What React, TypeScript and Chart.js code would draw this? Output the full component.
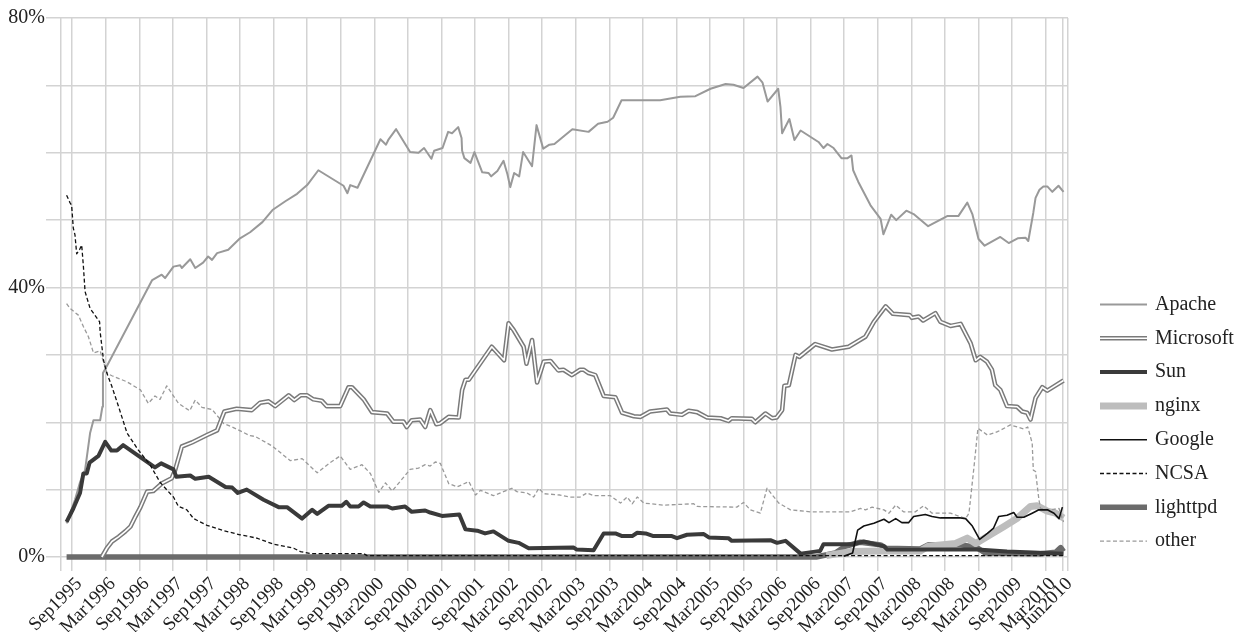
import { useEffect, useRef } from 'react';
import { Chart, registerables } from 'chart.js';

Chart.register(...registerables);

// ---- tick labels (x) ----
const tickLabels = [
  'Sep1995', 'Mar1996', 'Sep1996', 'Mar1997', 'Sep1997', 'Mar1998', 'Sep1998', 'Mar1999',
  'Sep1999', 'Mar2000', 'Sep2000', 'Mar2001', 'Sep2001', 'Mar2002', 'Sep2002', 'Mar2003',
  'Sep2003', 'Mar2004', 'Sep2004', 'Mar2005', 'Sep2005', 'Mar2006', 'Sep2006', 'Mar2007',
  'Sep2007', 'Mar2008', 'Sep2008', 'Mar2009', 'Sep2009', 'Mar2010', 'Jun2010',
];
const monthNames = ['Jan', 'Feb', 'Mar', 'Apr', 'May', 'Jun', 'Jul', 'Aug', 'Sep', 'Oct', 'Nov', 'Dec'];
// x values are months counted from Jan 1995
const tickMonths = tickLabels.map(
  (l) => (parseInt(l.slice(3), 10) - 1995) * 12 + monthNames.indexOf(l.slice(0, 3)),
);
const xMin = 6; // Jul 1995
const xMax = 186; // Jul 2010

// ---- y ticks ----
const yMax = 80;
const yGridStep = 10;
const yLabelStep = 40;

// ---- series values: [month since Jan 1995, share %] ----
const apache: [number, number][] = [
  [7, 5.0], [8.5, 8.5], [9.4, 11.1], [10.3, 12.9], [11.2, 18.4], [11.8, 20.3], [13, 20.3], [13.4, 22.3],
  [13.5, 27.3], [14.3, 28.5], [22.3, 41.1], [24, 41.9], [24.6, 41.4], [26.1, 43.1], [27.3, 43.3],
  [27.6, 42.9], [29.1, 44.2], [30, 42.9], [31.4, 43.7], [32.3, 44.6], [33, 44.1], [33.9, 45.1],
  [35.9, 45.6], [38, 47.3], [39.8, 48.2], [42, 49.7], [43.8, 51.5], [46.1, 52.8], [48.2, 53.9],
  [50, 55.2], [52, 57.4], [56.5, 55.1], [57.2, 54], [57.7, 55.2], [59, 54.8], [63.1, 62], [64.1, 61.2],
  [64.5, 61.9], [65.9, 63.5], [68.4, 60.1], [69.9, 60], [70.9, 60.7], [72.2, 59.1], [72.7, 60.3],
  [74.2, 60.7], [75.2, 63.1], [75.9, 62.9], [77, 63.8], [77.6, 62.2], [77.7, 60.3], [78.1, 59.2],
  [79.2, 58.5], [79.9, 60.1], [81.3, 57.1], [82.4, 57], [82.9, 56.5], [84, 57.3], [85.1, 58.8],
  [85.8, 56.8], [86.3, 54.9], [87, 57], [87.9, 56.5], [88.6, 60.1], [90.2, 58], [91, 64.1], [92.2, 60.6],
  [93.3, 61.2], [94.2, 61.3], [97.4, 63.5], [100.3, 63.1], [102, 64.3], [103.7, 64.6], [104.7, 65.2],
  [106.2, 67.8], [113.1, 67.8], [116.7, 68.3], [119.4, 68.4], [122.1, 69.5], [124.8, 70.2],
  [126.2, 70.1], [128, 69.6], [130.5, 71.3], [131.4, 70.4], [132.3, 67.6], [134.2, 69.5], [134.6, 66.8],
  [134.9, 62.9], [136.2, 65], [137.1, 61.9], [138.2, 63.3], [141.4, 61.6], [142.3, 60.7], [143, 61.3],
  [144.1, 60.7], [145.5, 59.2], [146.6, 59.2], [147.3, 59.6], [147.6, 57.4], [148.5, 55.7],
  [150.7, 52.2], [152.5, 50.2], [153, 47.9], [154.4, 50.8], [155.3, 50], [157.1, 51.4], [158.4, 50.9],
  [161, 49.1], [164.4, 50.6], [166.4, 50.6], [168, 52.6], [168.9, 50.9], [170, 47.2], [171.1, 46.2],
  [173.9, 47.5], [175.4, 46.6], [177, 47.3], [178.4, 47.4], [178.9, 46.9], [179.8, 51.1], [180.2, 53.3],
  [180.9, 54.5], [181.6, 55], [182.3, 55], [183.2, 54.2], [184.3, 55.1], [185.2, 54.2],
];

const microsoft: [number, number][] = [
  [13.3, 0], [14.2, 1.3], [15.1, 2.3], [16.3, 3], [17.5, 3.8], [18.4, 4.5], [19.3, 6], [20.2, 7.4],
  [21.4, 9.7], [22.5, 9.8], [24, 10.9], [25.8, 11.7], [26.4, 12.9], [27.6, 16.4], [29.4, 17],
  [32.1, 18.1], [33.9, 18.8], [35.2, 21.6], [37.4, 22], [40.1, 21.8], [41.6, 22.9], [43.1, 23.1],
  [44.3, 22.4], [46.7, 24], [47.7, 23.3], [48.8, 24], [50, 24], [51.1, 23.4], [52.6, 23.2], [53.5, 22.4],
  [55.9, 22.4], [57.4, 25.2], [58, 25.2], [60.1, 23.4], [61.6, 21.5], [64.3, 21.3], [65.4, 20.1],
  [67.2, 20.1], [67.8, 19.3], [68.7, 20.3], [70.2, 20.4], [71.1, 19.3], [72, 21.8], [73.1, 19.7],
  [73.7, 19.8], [75.3, 20.8], [77.1, 20.7], [77.7, 24.8], [78.3, 26.3], [78.9, 26.3], [83, 31.2],
  [85.2, 29.2], [86, 34.7], [86.9, 33.7], [88.7, 31.2], [89.2, 28.7], [90.2, 32.2], [91.1, 25.9],
  [92.3, 29], [93.5, 29.1], [94.9, 27.7], [95.8, 27.8], [97.3, 27], [98.8, 27.8], [99.4, 27.8],
  [100.3, 27.3], [101.5, 27], [103, 23.9], [105.1, 23.7], [106.3, 21.4], [108.4, 20.9], [109.6, 20.8],
  [111.3, 21.6], [114.3, 21.9], [114.9, 21.3], [117, 21.1], [118.2, 21.7], [119.7, 21.5], [121.5, 20.7],
  [123.9, 20.6], [125.3, 20.2], [125.9, 20.6], [129.5, 20.5], [130.1, 20], [131.9, 21.3], [133.1, 20.6],
  [133.9, 20.7], [134.9, 21.8], [135.3, 25.4], [136.1, 25.5], [137.3, 30], [138, 29.7], [140.8, 31.6],
  [143.8, 30.8], [146.8, 31.2], [149.8, 32.7], [151.3, 34.9], [153.4, 37.2], [154.7, 36.1],
  [157.7, 35.9], [158.1, 35.5], [159.3, 35.7], [160.1, 35.1], [162.3, 36.2], [163.2, 34.9], [165, 34.3],
  [166.8, 34.6], [168.6, 31.7], [169.5, 29.2], [170.3, 29.7], [171.5, 29], [172.4, 27.8], [173, 25.5],
  [173.9, 24.8], [175.1, 22.4], [176.9, 22.3], [177.8, 21.6], [178.7, 21.4], [179.3, 20.4],
  [180.2, 23.6], [181.4, 25.2], [182.3, 24.7], [185.2, 26.2],
];

const sun: [number, number][] = [
  [7, 5.2], [8.2, 7.2], [9.4, 9.5], [10, 12.4], [10.6, 12.4], [11.1, 14], [12.7, 15], [13.9, 17.1],
  [15, 15.8], [16, 15.8], [17.1, 16.6], [22.8, 13.3], [23.9, 13.9], [26.1, 13], [26.6, 11.9],
  [29.1, 12.1], [30, 11.6], [32.4, 11.9], [35.4, 10.4], [36.6, 10.3], [37.6, 9.5], [39.2, 10],
  [42.2, 8.5], [44.9, 7.4], [46.4, 7.4], [49.1, 5.7], [50.9, 7], [51.8, 6.4], [53.8, 7.6], [56.2, 7.6],
  [57, 8.2], [57.7, 7.5], [59.2, 7.5], [60.1, 8.1], [61.3, 7.5], [64.3, 7.5], [65.2, 7.2], [67.5, 7.5],
  [68.7, 6.7], [71.1, 6.9], [72, 6.6], [74.1, 6.1], [77.2, 6.3], [78.3, 4.1], [80.4, 3.9], [81.8, 3.5],
  [83.3, 3.8], [86, 2.4], [87.8, 2.1], [89.6, 1.3], [97.6, 1.4], [98.2, 1.1], [101.2, 1], [103, 3.5],
  [105.1, 3.5], [106.3, 3.1], [108.1, 3.1], [109, 3.6], [110.5, 3.5], [111.9, 3.1], [115.2, 3.1],
  [116.1, 2.8], [117.9, 3.3], [120.9, 3.4], [121.8, 2.9], [125.3, 2.8], [125.9, 2.4], [132.8, 2.5],
  [134, 2.1], [135.5, 2.4], [138.2, 0.5], [140.8, 0.8], [141.7, 0.9], [142.3, 1.9], [147.4, 1.9],
  [149.5, 2.3], [153.1, 1.6], [153.7, 1.1], [169.8, 1.1], [175.1, 0.8], [185.2, 0.5],
];

const nginx: [number, number][] = [
  [142.8, 0.2], [147.1, 0.8], [152.5, 0.9], [159.6, 0.9], [161, 1.6], [165.9, 2], [168, 2.8],
  [169.5, 2], [172.1, 3.3], [174.5, 4.5], [177, 5.8], [179.3, 7.5], [180.5, 7.6], [182.3, 6.8],
  [183.8, 6.5], [185.2, 5.8],
];

const google: [number, number][] = [
  [145.9, 0.1], [147.5, 0.6], [148.4, 4], [149.5, 4.6], [151.3, 5], [153.1, 5.6], [154, 5.1],
  [155.2, 5.7], [156.3, 5.1], [157.5, 5.1], [158.4, 6], [160.5, 6.3], [161.7, 6], [163.2, 5.8],
  [166.8, 5.8], [167.7, 5.7], [168.9, 4.6], [170.2, 2.6], [171.6, 3.5], [172.7, 4.3], [173.6, 6],
  [175.1, 6.2], [176.3, 6.6], [176.9, 5.9], [178.1, 5.9], [179.6, 6.5], [180.8, 7], [182.3, 7],
  [183.5, 6.5], [184.4, 5.7], [185, 7.4],
];

const ncsa: [number, number][] = [
  [7, 53.7], [7.6, 52.6], [7.9, 52.2], [8.2, 48.8], [8.5, 47.8], [8.8, 45], [9.3, 45.6], [9.7, 46.3],
  [10, 43.2], [10.3, 39.4], [11.2, 36.9], [11.8, 36.2], [12.9, 34.9], [13, 33.4], [13.6, 29.2],
  [14.2, 27.3], [15.1, 25.3], [16.3, 22.3], [17.8, 18.4], [19.8, 15.9], [21.9, 13.7], [23.7, 11.1],
  [25.2, 9.7], [26.1, 8.9], [27, 7.5], [28.5, 7], [29.7, 5.7], [32.1, 4.7], [35.1, 3.9], [38, 3.3],
  [41, 2.8], [44, 1.9], [47.6, 1.3], [48.8, 0.8], [50.6, 0.5], [60.1, 0.5], [60.7, 0.2], [185.2, 0.2],
];

const lighttpd: [number, number][] = [
  [7, 0], [141, 0], [144.4, 0.6], [146.2, 1.6], [148.9, 2.2], [152.5, 1.8], [153.5, 1.3], [159.6, 1.2],
  [161, 1.8], [166.8, 1.8], [169.5, 1.5], [171.2, 0.6], [181.1, 0.5], [183.8, 0.7], [184.7, 1.4],
  [185.2, 0.8],
];

const other: [number, number][] = [
  [7, 37.6], [7.6, 36.9], [9.1, 35.9], [10, 34.2], [10.9, 32.7], [11.8, 30.3], [13, 30.6], [14.2, 27.3],
  [15.1, 26.9], [17.8, 26], [20.2, 24.8], [21.6, 22.8], [22.8, 23.9], [23.7, 23.4], [24.9, 25.4],
  [27, 22.8], [29, 21.7], [30, 23.3], [31.2, 22.2], [33, 21.9], [35.1, 19.8], [36.6, 19.3], [39.8, 18],
  [40.7, 17.9], [43.7, 16.5], [47, 14.3], [49.1, 14.6], [51.8, 12.5], [54.1, 14], [55.9, 15], [57.7, 13],
  [59.8, 13.7], [61.3, 12.4], [62.8, 9.6], [64, 11], [65.2, 9.8], [66.3, 10.9], [68.4, 13], [69.9, 13.2],
  [71.1, 13.7], [72, 13.5], [72.9, 14.1], [73.8, 13.9], [75.3, 10.9], [76.8, 10.4], [78.9, 11.2],
  [80.1, 9.2], [81, 9.9], [83.3, 9.1], [86.6, 10.2], [87.5, 9.7], [89.3, 9.5], [90.5, 8.9], [91.4, 10.2],
  [92.3, 9.4], [95.2, 9.2], [97, 8.9], [98.8, 8.9], [100, 9.5], [101.2, 9.1], [104.2, 9.1], [106, 8],
  [107.2, 8.9], [108.1, 7.9], [109, 8.9], [110.2, 8], [113.7, 7.7], [119.1, 7.9], [119.7, 7.5],
  [126.8, 7.4], [128, 8.1], [129.2, 7], [131, 6.5], [132.2, 10.2], [134.3, 8], [136.4, 7], [140, 6.7],
  [147.1, 6.7], [148.9, 7.2], [149.8, 7], [151, 7.4], [153.1, 7], [154, 6.5], [155.2, 7.7], [156.6, 6.7],
  [158.7, 6.7], [160.2, 7.6], [161.7, 6.5], [165, 6.5], [167.7, 5.7], [168.3, 6.5], [169.2, 13.4],
  [169.9, 19.1], [171.6, 18.1], [173.4, 18.6], [175.7, 19.6], [178.1, 19], [178.8, 19.3], [179.6, 16.9],
  [179.8, 12.9], [180.2, 12.7], [180.8, 8.5], [181.1, 7.2], [182.9, 7], [184.4, 7.2], [185.2, 5.2],
];

type Series = {
  label: string;
  data: [number, number][];
  color: string;
  width: number;
  dash: number[];
  order: number;
  double?: boolean;
};

const series: Series[] = [
  { label: 'Apache', data: apache, color: '#999999', width: 2, dash: [], order: 5 },
  { label: 'Microsoft', data: microsoft, color: '#7a7a7a', width: 4.6, dash: [], order: 4, double: true },
  { label: 'Sun', data: sun, color: '#3a3a3a', width: 4, dash: [], order: 2 },
  { label: 'nginx', data: nginx, color: '#bdbdbd', width: 7, dash: [], order: 7 },
  { label: 'Google', data: google, color: '#111111', width: 1.6, dash: [], order: 1 },
  { label: 'NCSA', data: ncsa, color: '#111111', width: 1.3, dash: [4, 2.5], order: 0 },
  { label: 'lighttpd', data: lighttpd, color: '#6b6b6b', width: 5.5, dash: [], order: 8 },
  { label: 'other', data: other, color: '#9a9a9a', width: 1.3, dash: [4, 2.5], order: 6 },
];

const FONT = '"Liberation Serif", "Times New Roman", serif';
const TEXT = '#222222';
const GRID = '#d3d3d3';

const sideLegend = {
  id: 'sideLegend',
  afterDraw(chart: any) {
    const ctx = chart.ctx as CanvasRenderingContext2D;
    const { right, top, bottom } = chart.chartArea;
    const x0 = right + 32;
    const x1 = x0 + 47;
    const tx = x1 + 8;
    const step = 33.8;
    const y0 = (top + bottom) / 2 + 17;
    series.forEach((s, i) => {
      const y = y0 + i * step;
      ctx.save();
      ctx.beginPath();
      ctx.moveTo(x0, y);
      ctx.lineTo(x1, y);
      ctx.strokeStyle = s.color;
      ctx.lineWidth = s.width;
      ctx.setLineDash(s.dash);
      ctx.lineCap = 'butt';
      ctx.stroke();
      if (s.double) {
        ctx.beginPath();
        ctx.moveTo(x0 - 1, y);
        ctx.lineTo(x1 + 1, y);
        ctx.strokeStyle = '#ffffff';
        ctx.lineWidth = 1.6;
        ctx.stroke();
      }
      ctx.setLineDash([]);
      ctx.fillStyle = TEXT;
      ctx.font = `20px ${FONT}`;
      ctx.textBaseline = 'middle';
      ctx.textAlign = 'left';
      ctx.fillText(s.label, tx, y);
      ctx.restore();
    });
  },
};

export default function App() {
  const canvasRef = useRef<HTMLCanvasElement | null>(null);

  useEffect(() => {
    if (!canvasRef.current) return;
    const datasets: any[] = [];
    series.forEach((s) => {
      datasets.push({
        label: s.label,
        data: s.data.map(([x, y]) => ({ x, y })),
        borderColor: s.color,
        backgroundColor: s.color,
        borderWidth: s.width,
        borderDash: s.dash,
        pointRadius: 0,
        pointHoverRadius: 0,
        tension: 0,
        fill: false,
        order: s.order,
        clip: 8,
        borderJoinStyle: 'round',
      });
      if (s.double) {
        datasets.push({
          label: s.label + ' inner',
          data: s.data.map(([x, y]) => ({ x, y })),
          borderColor: '#ffffff',
          borderWidth: 1.6,
          pointRadius: 0,
          pointHoverRadius: 0,
          tension: 0,
          fill: false,
          order: s.order - 0.5,
          clip: 8,
          borderJoinStyle: 'round',
        });
      }
    });

    const chart = new Chart(canvasRef.current, {
      type: 'line',
      data: { datasets },
      plugins: [sideLegend],
      options: {
        animation: false,
        responsive: true,
        maintainAspectRatio: false,
        events: [],
        layout: { autoPadding: false, padding: { left: 0, right: 177, top: 18, bottom: 0 } },
        plugins: { legend: { display: false }, tooltip: { enabled: false } },
        scales: {
          x: {
            type: 'linear',
            min: xMin,
            max: xMax,
            afterFit: (scale: any) => {
              scale.height = 75;
            },
            afterBuildTicks: (scale: any) => {
              scale.ticks = [xMin, ...tickMonths, xMax].map((v) => ({ value: v }));
            },
            grid: { color: GRID, lineWidth: 1.5, tickLength: 14, drawTicks: true },
            border: { display: false },
            ticks: {
              autoSkip: false,
              maxRotation: 45,
              minRotation: 45,
              padding: 2,
              labelOffset: 7,
              color: TEXT,
              font: { family: FONT, size: 19 },
              callback: (v: any) => {
                const i = tickMonths.indexOf(Number(v));
                return i >= 0 ? tickLabels[i] : '';
              },
            },
          },
          y: {
            type: 'linear',
            min: 0,
            max: yMax,
            afterFit: (scale: any) => {
              scale.width = 61;
            },
            grid: { color: GRID, lineWidth: 1.5, tickLength: 15, drawTicks: true },
            border: { display: false },
            ticks: {
              stepSize: yGridStep,
              padding: 1,
              color: TEXT,
              font: { family: FONT, size: 20 },
              callback: (v: any) => (Number(v) % yLabelStep === 0 ? `${v}%` : ''),
            },
          },
        },
      },
    });
    return () => chart.destroy();
  }, []);

  return (
    <div style={{ position: 'fixed', left: 0, top: 0, width: 1245, height: 632, background: '#fff' }}>
      <canvas ref={canvasRef} />
    </div>
  );
}
